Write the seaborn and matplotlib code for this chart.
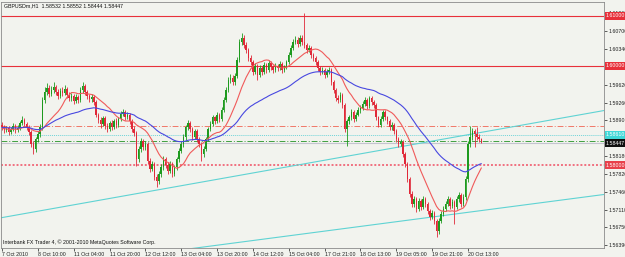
import numpy as np
import pandas as pd
import matplotlib
matplotlib.use("Agg")
import matplotlib.pyplot as plt
import seaborn as sns
from matplotlib.transforms import blended_transform_factory

sns.set_theme(style="white")
plt.rcParams['font.family'] = ['Liberation Sans', 'DejaVu Sans']

# ---------------- data (GBPUSDm H1) ----------------
first_open = 1.5880
close = [
1.5876,1.5870,1.5874,1.5866,1.5872,1.5878,1.5870,1.5874,1.5884,1.5890,
1.5882,1.5876,1.5866,1.5842,1.5832,1.5852,1.5862,1.5876,1.5932,1.5948,
1.5956,1.5944,1.5952,1.5958,1.5948,1.5940,1.5950,1.5946,1.5954,1.5942,
1.5936,1.5940,1.5930,1.5938,1.5932,1.5952,1.5960,1.5948,1.5940,1.5934,
1.5938,1.5928,1.5902,1.5890,1.5882,1.5894,1.5878,1.5872,1.5884,1.5876,
1.5888,1.5880,1.5892,1.5904,1.5908,1.5896,1.5902,1.5888,1.5872,1.5864,
1.5812,1.5832,1.5848,1.5836,1.5842,1.5808,1.5792,1.5802,1.5776,1.5768,
1.5782,1.5796,1.5812,1.5800,1.5788,1.5802,1.5782,1.5796,1.5812,1.5828,
1.5842,1.5856,1.5876,1.5884,1.5872,1.5856,1.5868,1.5852,1.5842,1.5822,
1.5832,1.5852,1.5872,1.5882,1.5896,1.5888,1.5902,1.5892,1.5912,1.5932,
1.5952,1.5972,1.5976,1.5968,1.5980,1.6012,1.6048,1.6056,1.6042,1.6032,
1.6016,1.6008,1.5988,1.6000,1.5982,1.5996,1.5988,1.6002,1.5992,1.6006,
1.5998,1.5992,1.6000,1.5996,1.6004,1.5992,1.5998,1.6008,1.6022,1.6036,
1.6048,1.6052,1.6044,1.6056,1.6048,1.6042,1.6032,1.6036,1.6022,1.6016,
1.6008,1.5996,1.5988,1.5992,1.5982,1.5988,1.5992,1.5968,1.5952,1.5936,
1.5932,1.5942,1.5922,1.5872,1.5888,1.5896,1.5908,1.5892,1.5902,1.5912,
1.5916,1.5924,1.5932,1.5920,1.5936,1.5928,1.5922,1.5896,1.5880,1.5892,
1.5908,1.5896,1.5888,1.5876,1.5880,1.5868,1.5852,1.5842,1.5846,1.5822,
1.5802,1.5772,1.5742,1.5722,1.5732,1.5712,1.5728,1.5716,1.5732,1.5722,
1.5708,1.5696,1.5704,1.5688,1.5668,1.5688,1.5702,1.5712,1.5722,1.5732,
1.5718,1.5726,1.5716,1.5732,1.5740,1.5722,1.5736,1.5772,1.5842,1.5856,
1.5868,1.5862,1.5856,1.5853,1.5845]
high = [
1.5886,1.5880,1.5878,1.5878,1.5876,1.5884,1.5882,1.5880,1.5888,1.5898,
1.5894,1.5886,1.5880,1.5870,1.5848,1.5856,1.5868,1.5882,1.5938,1.5958,
1.5966,1.5962,1.5960,1.5968,1.5962,1.5954,1.5956,1.5958,1.5962,1.5958,
1.5948,1.5946,1.5944,1.5944,1.5942,1.5958,1.5968,1.5964,1.5952,1.5944,
1.5944,1.5942,1.5932,1.5906,1.5896,1.5900,1.5898,1.5884,1.5888,1.5890,
1.5892,1.5894,1.5896,1.5910,1.5914,1.5912,1.5908,1.5906,1.5892,1.5878,
1.5868,1.5838,1.5854,1.5852,1.5848,1.5846,1.5814,1.5808,1.5806,1.5782,
1.5788,1.5802,1.5818,1.5816,1.5806,1.5808,1.5806,1.5800,1.5816,1.5834,
1.5848,1.5862,1.5880,1.5890,1.5888,1.5876,1.5872,1.5872,1.5856,1.5846,
1.5838,1.5856,1.5876,1.5888,1.5902,1.5900,1.5908,1.5906,1.5918,1.5938,
1.5958,1.5978,1.5984,1.5982,1.5986,1.6018,1.6054,1.6066,1.6062,1.6048,
1.6036,1.6022,1.6012,1.6006,1.6004,1.6002,1.6000,1.6008,1.6006,1.6012,
1.6010,1.6002,1.6006,1.6004,1.6010,1.6008,1.6002,1.6012,1.6028,1.6042,
1.6054,1.6060,1.6058,1.6062,1.6062,1.6106,1.6046,1.6042,1.6040,1.6026,
1.6020,1.6012,1.6000,1.5998,1.5996,1.5994,1.5998,1.5996,1.5972,1.5956,
1.5942,1.5948,1.5946,1.5926,1.5892,1.5902,1.5914,1.5912,1.5908,1.5918,
1.5922,1.5930,1.5938,1.5936,1.5940,1.5940,1.5932,1.5926,1.5900,1.5898,
1.5912,1.5912,1.5900,1.5892,1.5886,1.5884,1.5872,1.5856,1.5852,1.5850,
1.5826,1.5806,1.5776,1.5748,1.5738,1.5736,1.5734,1.5732,1.5738,1.5736,
1.5726,1.5712,1.5710,1.5708,1.5692,1.5694,1.5708,1.5718,1.5728,1.5738,
1.5736,1.5732,1.5730,1.5738,1.5746,1.5744,1.5742,1.5778,1.5848,1.5878,
1.5874,1.5872,1.5876,1.5862,1.5855]
low = [
1.5870,1.5864,1.5866,1.5860,1.5862,1.5868,1.5864,1.5866,1.5870,1.5880,
1.5878,1.5870,1.5860,1.5836,1.5822,1.5826,1.5846,1.5856,1.5870,1.5926,
1.5942,1.5938,1.5940,1.5946,1.5942,1.5934,1.5936,1.5940,1.5942,1.5936,
1.5930,1.5930,1.5924,1.5926,1.5926,1.5928,1.5946,1.5942,1.5934,1.5928,
1.5928,1.5922,1.5896,1.5884,1.5874,1.5878,1.5872,1.5866,1.5868,1.5870,
1.5872,1.5874,1.5876,1.5888,1.5898,1.5890,1.5892,1.5882,1.5866,1.5858,
1.5798,1.5806,1.5826,1.5830,1.5830,1.5802,1.5786,1.5788,1.5770,1.5756,
1.5762,1.5776,1.5790,1.5794,1.5782,1.5784,1.5776,1.5778,1.5790,1.5806,
1.5824,1.5836,1.5850,1.5870,1.5866,1.5850,1.5852,1.5846,1.5836,1.5808,
1.5816,1.5828,1.5848,1.5868,1.5878,1.5882,1.5884,1.5886,1.5888,1.5908,
1.5928,1.5948,1.5966,1.5962,1.5962,1.5976,1.6008,1.6042,1.6036,1.6026,
1.6010,1.6002,1.5982,1.5984,1.5972,1.5978,1.5982,1.5984,1.5986,1.5988,
1.5992,1.5986,1.5988,1.5990,1.5992,1.5986,1.5988,1.5994,1.6004,1.6018,
1.6032,1.6044,1.6038,1.6040,1.6042,1.6036,1.6026,1.6028,1.6016,1.6010,
1.6002,1.5990,1.5982,1.5984,1.5976,1.5978,1.5984,1.5962,1.5946,1.5930,
1.5926,1.5928,1.5916,1.5866,1.5838,1.5882,1.5890,1.5886,1.5888,1.5898,
1.5906,1.5912,1.5920,1.5914,1.5916,1.5922,1.5916,1.5890,1.5876,1.5876,
1.5888,1.5890,1.5882,1.5870,1.5870,1.5862,1.5846,1.5836,1.5838,1.5816,
1.5796,1.5766,1.5736,1.5716,1.5716,1.5706,1.5708,1.5710,1.5712,1.5716,
1.5702,1.5690,1.5692,1.5682,1.5656,1.5662,1.5684,1.5698,1.5708,1.5718,
1.5712,1.5714,1.5682,1.5712,1.5726,1.5716,1.5718,1.5730,1.5766,1.5836,
1.5850,1.5836,1.5850,1.5846,1.5844]

xtick_bars = [0, 16, 32, 48, 64, 80, 96, 112, 128, 144, 160, 176, 192, 208]
xtick_labels = ["7 Oct 2010", "8 Oct 10:00", "11 Oct 04:00", "11 Oct 20:00",
                "12 Oct 12:00", "13 Oct 04:00", "13 Oct 20:00", "14 Oct 12:00",
                "15 Oct 04:00", "17 Oct 21:00", "18 Oct 13:00", "19 Oct 05:00",
                "19 Oct 21:00", "20 Oct 13:00"]
ytick_values = [1.61060, 1.60700, 1.60340, 1.59620, 1.59260, 1.58900,
                1.58180, 1.57820, 1.57460, 1.57110, 1.56750, 1.56390]

level_red = [1.61000, 1.60000]
level_pink = 1.58000
level_salmon = 1.58780
level_cyan = 1.58610
level_green = 1.58490
bid_price = 1.58447

trend_upper_bar = [-1, 270]
trend_upper_price = [1.5694, 1.5911]
trend_lower_bar = [60, 270]
trend_lower_price = [1.5618, 1.5742]

title = "GBPUSDm,H1  1.58532 1.58552 1.58444 1.58447"
copyright_txt = "Interbank FX Trader 4, \u00a9 2001-2010 MetaQuotes Software Corp."

# ---------------- frame ----------------
n = len(close)
df = pd.DataFrame({
    "bar": np.arange(n),
    "open": [first_open] + close[:-1],
    "high": high, "low": low, "close": close,
})
df["high"] = df[["high", "open", "close"]].max(axis=1)
df["low"] = df[["low", "open", "close"]].min(axis=1)
df["ma_red"] = df["close"].rolling(14, min_periods=1).mean()
df["ma_blue"] = df["close"].ewm(span=50, adjust=False).mean()

bg = "#F2F3EE"
W, H = 625, 257
fig = plt.figure(figsize=(W / 100, H / 100), dpi=100)
fig.patch.set_facecolor(bg)
ax = fig.add_axes([1 / W, 9 / H, 603 / W, 246 / H])
ax.set_facecolor(bg)

ax.set_xlim(-0.45, 268.75)
ax.set_ylim(1.563368, 1.612814)

# levels and objects
for lv in level_red:
    ax.axhline(lv, color="#E8303A", lw=0.8, zorder=1)
ax.axhline(level_pink, color="#F07080", lw=1.4, ls=(0, (1, 1)), zorder=1)
ax.axhline(level_salmon, color="#F07868", lw=0.7, ls=(0, (6, 2, 1, 2)), zorder=1)
ax.axhline(level_cyan, color="#70D4D8", lw=0.7, ls=(0, (1, 1)), zorder=1)
ax.axhline(level_green, color="#40A040", lw=0.7, ls=(0, (6, 2, 1, 2)), zorder=1)
ax.axhline(bid_price, color="#C4C4D0", lw=0.8, zorder=1)
ax.plot(trend_upper_bar, trend_upper_price, color="#5FD3D3", lw=0.8, zorder=1)
ax.plot(trend_lower_bar, trend_lower_price, color="#5FD3D3", lw=0.8, zorder=1)

# candles
up = df["close"] >= df["open"]
col = np.where(up, "#1E9A1E", "#E02838")
ax.vlines(df["bar"], df["low"], df["high"], colors=col, lw=0.6, zorder=2)
body_lo = df[["open", "close"]].min(axis=1)
body_h = (df["close"] - df["open"]).abs().clip(lower=0.00004)
ax.bar(df["bar"], body_h, bottom=body_lo, width=0.65, color=col, linewidth=0, zorder=3)

# moving averages
sns.lineplot(data=df, x="bar", y="ma_red", color="#F05A5A", lw=0.8, ax=ax, zorder=4)
sns.lineplot(data=df, x="bar", y="ma_blue", color="#4848E0", lw=0.8, ax=ax, zorder=4)
ax.set_xlabel("")
ax.set_ylabel("")

# axes cosmetics
for s in ax.spines.values():
    s.set_color("#8A8A8A")
    s.set_linewidth(0.6)
ax.yaxis.tick_right()
ax.set_yticks(ytick_values)
ax.set_yticklabels([f"{v:.5f}" for v in ytick_values])
ax.tick_params(axis="y", right=True, length=2, width=0.5, pad=1, labelsize=3.8,
               colors="#202020")
ax.set_xticks(xtick_bars)
ax.set_xticklabels(xtick_labels, ha="left")
ax.tick_params(axis="x", bottom=True, length=2, width=0.5, pad=1, labelsize=3.8,
               colors="#202020")
ax.grid(False)

# price boxes on the right axis
tr = blended_transform_factory(ax.transAxes, ax.transData)
boxes = [(level_red[0], "#E8303A"), (level_red[1], "#E8303A"),
         (level_cyan, "#40D8D8"), (bid_price, "#101010"), (level_pink, "#E8404A")]
for val, fc in boxes:
    ax.text(1.0 + 2 / 603, val, f"{val:.5f}", transform=tr, ha="left", va="center",
            fontsize=3.8, color="white", clip_on=False, zorder=6,
            bbox=dict(boxstyle="square,pad=0.25", fc=fc, ec="none"))

fig.text(4 / W, 1 - 5.5 / H, title, ha="left", va="center", fontsize=3.8, color="#101010")
fig.text(3 / W, 1 - 242 / H, copyright_txt, ha="left", va="center", fontsize=3.8,
         color="#101010")

fig.savefig("out.png", dpi=100, facecolor=bg)
